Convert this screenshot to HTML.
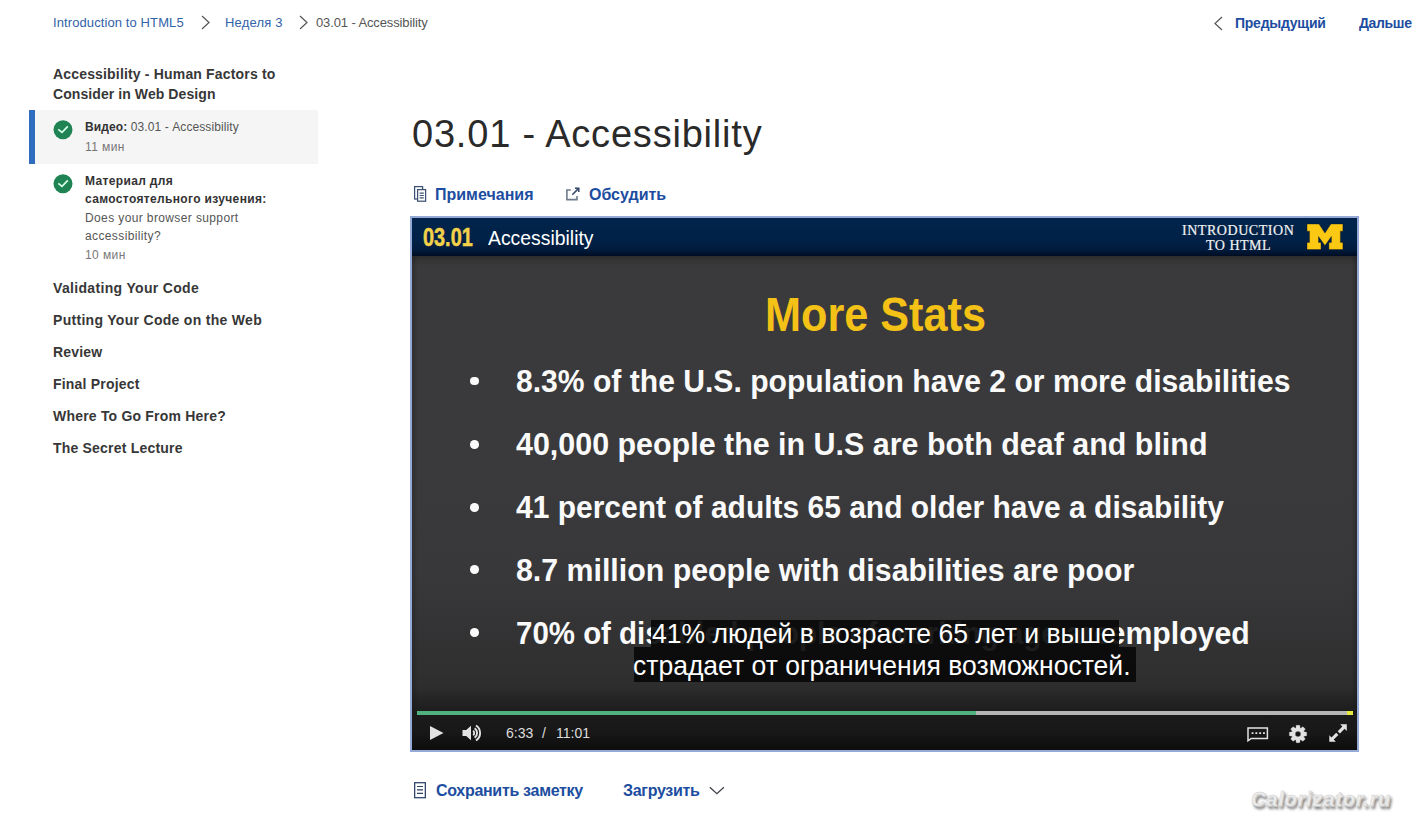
<!DOCTYPE html>
<html><head><meta charset="utf-8">
<style>
*{margin:0;padding:0;box-sizing:border-box}
html,body{width:1415px;height:821px;overflow:hidden;background:#fff}
body{font-family:"Liberation Sans",sans-serif;color:#333;position:relative}
.a{position:absolute;white-space:nowrap;line-height:1}
.lnk{color:#3262a8}
.blnk{color:#1c4da0;font-weight:bold}
.side-h{font-weight:bold;font-size:14px;color:#373737;letter-spacing:0.2px}
svg{position:absolute;overflow:visible}
#video{position:absolute;left:410px;top:216px;width:949px;height:536px;border:2px solid #94a9d6;background:#3a3a3a;overflow:hidden}
#vhead{position:absolute;left:0;top:0;width:945px;height:38px;background:linear-gradient(#02214d 0%,#01244a 15%,#012147 60%,#011a3b 85%,#000d22 100%)}
#vbody{position:absolute;left:0;top:38px;width:945px;height:494px;background:linear-gradient(#2c2c2d 0px,#343435 4px,#3a3a3c 10px,#3a3a3c 40%,#38383a 65%,#2f2f30 85%,#222223 100%)}
#vctrl{position:absolute;left:0;top:470px;width:945px;height:62px;background:linear-gradient(rgba(22,22,22,0) 0px,rgba(24,24,24,.6) 20px,#1b1b1b 28px,#181818 44px,#121212 53px,#0d0d0d 62px)}
.st{font-weight:bold;color:#fafafa;font-size:31px}
.sub{font-size:28px;color:#fff}
</style></head><body>

<!-- breadcrumb -->
<div class="a lnk" id="bc1" style="left:53px;top:16px;font-size:13px;letter-spacing:0.1px">Introduction to HTML5</div>
<svg style="left:201.3px;top:14.5px" width="9" height="15" viewBox="0 0 9 15"><path d="M1 1 L8 7.5 L1 14" fill="none" stroke="#555" stroke-width="1.2"/></svg>
<div class="a lnk" id="bc2" style="left:225px;top:16px;font-size:13px;letter-spacing:0.2px">Неделя 3</div>
<svg style="left:298.7px;top:14.5px" width="9" height="15" viewBox="0 0 9 15"><path d="M1 1 L8 7.5 L1 14" fill="none" stroke="#555" stroke-width="1.2"/></svg>
<div class="a" id="bc3" style="left:316px;top:16px;font-size:13px;color:#555;letter-spacing:-0.12px">03.01 - Accessibility</div>

<!-- top right -->
<svg style="left:1214px;top:16px" width="9" height="15" viewBox="0 0 9 15"><path d="M8 1 L1 7.5 L8 14" fill="none" stroke="#555" stroke-width="1.2"/></svg>
<div class="a blnk" id="prev" style="left:1235px;top:16px;font-size:14px;letter-spacing:-0.25px">Предыдущий</div>
<div class="a blnk" id="next" style="left:1359px;top:16px;font-size:14px;letter-spacing:-0.35px">Дальше</div>

<!-- sidebar -->
<div class="a side-h" id="sh1" style="left:53px;top:67px;letter-spacing:0.17px">Accessibility - Human Factors to</div>
<div class="a side-h" id="sh2" style="left:53px;top:87px;letter-spacing:0.08px">Consider in Web Design</div>

<div class="a" style="left:29px;top:110px;width:289px;height:54px;background:#f5f5f5"></div>
<div class="a" style="left:29px;top:110px;width:6px;height:54px;background:#2f6cbf"></div>

<svg style="left:53px;top:120px" width="20" height="20" viewBox="0 0 20 20"><circle cx="10" cy="9.7" r="9.5" fill="#1f8354"/><path d="M5.3 9.4 L9 12.4 L14.8 6.4" fill="none" stroke="#d8ffe9" stroke-width="1.7"/></svg>
<div class="a" id="v1" style="left:85px;top:121px;letter-spacing:0.1px;font-size:12px;color:#555"><b style="color:#333">Видео:</b> 03.01 - Accessibility</div>
<div class="a" style="left:85px;top:141px;font-size:12px;color:#777;letter-spacing:0.4px">11 мин</div>

<svg style="left:53px;top:174.4px" width="20" height="20" viewBox="0 0 20 20"><circle cx="10" cy="9.7" r="9.5" fill="#1f8354"/><path d="M5.3 9.4 L9 12.4 L14.8 6.4" fill="none" stroke="#d8ffe9" stroke-width="1.7"/></svg>
<div class="a" id="m1" style="left:85px;top:175px;letter-spacing:0.35px;font-size:12px;color:#333;font-weight:bold">Материал для</div>
<div class="a" id="m2" style="left:85px;top:193px;letter-spacing:0.35px;font-size:12px;color:#333;font-weight:bold">самостоятельного изучения:</div>
<div class="a" id="m3" style="left:85px;top:211.5px;letter-spacing:0.38px;font-size:12px;color:#555">Does your browser support</div>
<div class="a" id="m4" style="left:85px;top:229.5px;letter-spacing:0.38px;font-size:12px;color:#555">accessibility?</div>
<div class="a" style="left:85px;top:248.5px;font-size:12px;color:#777;letter-spacing:0.4px">10 мин</div>

<div class="a side-h" id="s1" style="left:53px;top:281px;letter-spacing:0.33px">Validating Your Code</div>
<div class="a side-h" id="s2" style="left:53px;top:313px;letter-spacing:0.3px">Putting Your Code on the Web</div>
<div class="a side-h" id="s3" style="left:53px;top:345px">Review</div>
<div class="a side-h" id="s4" style="left:53px;top:377px">Final Project</div>
<div class="a side-h" id="s5" style="left:53px;top:409px">Where To Go From Here?</div>
<div class="a side-h" id="s6" style="left:53px;top:441px">The Secret Lecture</div>

<!-- title -->
<div class="a" id="title" style="left:412px;top:115px;font-size:38px;color:#2a2a2a;letter-spacing:0.8px">03.01 - Accessibility</div>

<!-- links -->
<svg style="left:412px;top:184px" width="16" height="19" viewBox="0 0 16 19"><rect x="2.6" y="2.6" width="8" height="12.4" fill="none" stroke="#3d5172" stroke-width="1.25"/><rect x="5.6" y="5.6" width="8" height="11.6" fill="#fff" stroke="#3d5172" stroke-width="1.25"/><path d="M7.6 9.1h4.2M7.6 11.5h4.2M7.6 13.9h4.2" stroke="#3d5172" stroke-width="1.1"/></svg>
<div class="a blnk" id="notes" style="left:435px;top:187px;font-size:16px">Примечания</div>
<svg style="left:565px;top:186px" width="16" height="16" viewBox="0 0 16 16"><path d="M5.8 4H1.9V13.6H12V10" fill="none" stroke="#6f7a8a" stroke-width="1.6"/><path d="M7.3 8.7L13.6 2.4M9.9 2.2H13.8V6.1" fill="none" stroke="#34496a" stroke-width="1.5"/></svg>
<div class="a blnk" id="disc" style="left:589px;top:187px;font-size:16px">Обсудить</div>

<!-- video -->
<div id="video">
  <div id="vbody"></div>
  <div class="a" style="left:0;top:38px;width:945px;height:460px;background:linear-gradient(90deg,rgba(0,0,0,.18) 0px,rgba(0,0,0,0) 6px,rgba(0,0,0,0) 939px,rgba(0,0,0,.22) 945px)"></div>
  <div id="vhead"></div>
  <div class="a" id="vnum" style="left:11px;top:7px;font-size:25px;-webkit-text-stroke:0.5px #f3d24a;transform:scaleX(0.795);transform-origin:0 0;font-weight:bold;color:#f3d24a">03.01</div>
  <div class="a" id="vtit" style="left:76px;top:9px;font-size:21px;transform:scaleX(0.923);transform-origin:0 0;color:#fff">Accessibility</div>
  <div class="a" id="intro1" style="left:770px;top:6px;font-family:'Liberation Serif',serif;font-size:14px;letter-spacing:0.55px;color:#f2f2f2;-webkit-text-stroke:0.2px #f2f2f2">INTRODUCTION</div>
  <div class="a" id="intro2" style="left:794px;top:21px;font-family:'Liberation Serif',serif;font-size:14px;letter-spacing:0.5px;color:#f2f2f2;-webkit-text-stroke:0.2px #f2f2f2">TO HTML</div>
  <svg style="left:894.5px;top:6.25px" width="36" height="26" viewBox="0 0 36 26"><path d="M0 0H12L17.95 9L23.9 0H35.9V7.2H33.4V18.4H35.9V25.6H21.9V18.4H24.4V12.5L17.95 21.5L11.5 12.5V18.4H14V25.6H0V18.4H2.5V7.2H0Z" fill="#fbc814" stroke="#0a0f10" stroke-width="0.6" stroke-opacity="0.6"/></svg>

  <div class="a" id="more" style="left:352.8px;top:73px;transform:scaleX(0.91);transform-origin:0 0;font-size:47.5px;font-weight:bold;color:#f4c116">More Stats</div>

  <div class="a" style="left:58px;top:158.5px;width:8.7px;height:8.7px;border-radius:50%;background:#fafafa"></div>
  <div class="a" style="left:58px;top:222px;width:8.7px;height:8.7px;border-radius:50%;background:#fafafa"></div>
  <div class="a" style="left:58px;top:285px;width:8.7px;height:8.7px;border-radius:50%;background:#fafafa"></div>
  <div class="a" style="left:58px;top:347px;width:8.7px;height:8.7px;border-radius:50%;background:#fafafa"></div>
  <div class="a" style="left:58px;top:410px;width:8.7px;height:8.7px;border-radius:50%;background:#fafafa"></div>

  <div class="a st" id="b1" style="left:104px;top:148px;transform:scaleX(0.971);transform-origin:0 0">8.3% of the U.S. population have 2 or more disabilities</div>
  <div class="a st" id="b2" style="left:104px;top:211px;transform:scaleX(0.9815);transform-origin:0 0">40,000 people the in U.S are both deaf and blind</div>
  <div class="a st" id="b3" style="left:104px;top:274px;transform:scaleX(0.967);transform-origin:0 0">41 percent of adults 65 and older have a disability</div>
  <div class="a st" id="b4" style="left:104px;top:337px;transform:scaleX(0.978);transform-origin:0 0">8.7 million people with disabilities are poor</div>
  <div class="a" style="left:104px;top:395px;width:600px;height:45px;overflow:hidden"><div class="a st" id="b5" style="left:0;top:5px;transform:scaleX(0.95);transform-origin:0 0">70% of disabled people of working age are un</div></div>
  <div class="a st" id="b5b" style="right:107px;top:400px;transform:scaleX(0.975);transform-origin:100% 0">employed</div>

  <div id="vctrl"></div>
  <div class="a" style="left:238.7px;top:402.3px;width:468.6px;height:26.5px;background:rgba(9,9,9,.92)"></div>
  <div class="a" style="left:222.2px;top:428.8px;width:501.6px;height:35px;background:rgba(9,9,9,.92)"></div>
  <div class="a sub" id="sub1" style="left:240.1px;top:401.9px;transform:scaleX(0.948);transform-origin:0 0">41% людей в возрасте 65 лет и выше</div>
  <div class="a sub" id="sub2" style="left:221.4px;top:433.6px;transform:scaleX(0.947);transform-origin:0 0">страдает от ограничения возможностей.</div>

  <!-- progress -->
  <div class="a" style="left:5px;top:493px;width:936px;height:4px;background:#b6b6b6"></div>
  <div class="a" style="left:5px;top:493px;width:559px;height:4px;background:#4fb27f"></div>
  <div class="a" style="left:935px;top:493px;width:6px;height:4px;background:#e6ea3c"></div>

  <!-- controls -->
  <svg style="left:18px;top:508px" width="14" height="14" viewBox="0 0 14 14"><path d="M0 0L13.5 7L0 14Z" fill="#e2e2e2"/></svg>
  <svg style="left:49.5px;top:507px" width="22" height="17" viewBox="0 0 22 17"><path d="M0.5 5H4.2L9 0.8V15.2L4.2 11H0.5Z" fill="#e2e2e2"/><path d="M11.16 5.78A2.9 2.9 0 0 1 11.16 10.22M12.63 3.25A5.8 5.8 0 0 1 12.63 12.75M13.96 0.54A8.8 8.8 0 0 1 13.96 15.46" fill="none" stroke="#e2e2e2" stroke-width="1.9"/></svg>
  <div class="a" id="tcur" style="left:94px;top:508px;font-size:14px;color:#ddd">6:33</div>
  <div class="a" style="left:130px;top:508px;font-size:14px;color:#ddd">/</div>
  <div class="a" id="ttot" style="left:144px;top:508px;font-size:14px;color:#ddd">11:01</div>

  <svg style="left:835px;top:509px" width="22" height="15" viewBox="0 0 22 15"><path d="M1 1H20.4V11.5H4.2L1 13.8Z" fill="none" stroke="#e2e2e2" stroke-width="1.5" stroke-linejoin="miter"/><path d="M4.6 5.2h1.9v1.9h-1.9zM8.4 5.2h1.9v1.9h-1.9zM12.2 5.2h1.9v1.9h-1.9zM16 5.2h1.9v1.9h-1.9z" fill="#e2e2e2"/></svg>
  <svg style="left:876.5px;top:506.5px" width="18" height="18" viewBox="0 0 18 18"><path fill="#e2e2e2" fill-rule="evenodd" stroke="#e2e2e2" stroke-width="0.3" stroke-linejoin="round" d="M14.92 6.85 L17.64 7.32 L17.64 10.68 L14.92 11.15 L14.71 11.66 L16.30 13.92 L13.92 16.30 L11.66 14.71 L11.15 14.92 L10.68 17.64 L7.32 17.64 L6.85 14.92 L6.34 14.71 L4.08 16.30 L1.70 13.92 L3.29 11.66 L3.08 11.15 L0.36 10.68 L0.36 7.32 L3.08 6.85 L3.29 6.34 L1.70 4.08 L4.08 1.70 L6.34 3.29 L6.85 3.08 L7.32 0.36 L10.68 0.36 L11.15 3.08 L11.66 3.29 L13.92 1.70 L16.30 4.08 L14.71 6.34Z M9 6.2a2.8 2.8 0 1 0 0 5.6a2.8 2.8 0 1 0 0-5.6Z"/></svg>
  <svg style="left:916.5px;top:506px" width="19" height="19" viewBox="0 0 19 19"><path d="M11.2 0.3H17.8V6.9L15.6 4.7L10.9 9.4L8.7 7.2L13.4 2.5Z" fill="#e2e2e2"/><path d="M0.3 11.2V17.8H6.9L4.7 15.6L9.4 10.9L7.2 8.7L2.5 13.4Z" fill="#e2e2e2"/></svg>
</div>

<!-- bottom links -->
<svg style="left:413px;top:781px" width="14" height="18" viewBox="0 0 14 18"><rect x="1.65" y="1.7" width="10.7" height="15" fill="none" stroke="#34496a" stroke-width="1.3"/><path d="M4 5.5h6M4 8.9h6M4 12.4h6" stroke="#2e3f58" stroke-width="1.1"/></svg>
<div class="a blnk" id="save" style="left:436px;top:783px;font-size:16px;letter-spacing:-0.3px">Сохранить заметку</div>
<div class="a blnk" id="load" style="left:623px;top:783px;font-size:16px;letter-spacing:-0.3px">Загрузить</div>
<svg style="left:708px;top:786px" width="17" height="9" viewBox="0 0 17 9"><path d="M1.8 1.3L8.9 7.6L15.9 1.3" fill="none" stroke="#3a3d44" stroke-width="1.25"/></svg>

<!-- watermark -->
<div class="a" id="wm" style="left:1251px;top:789px;font-size:20px;letter-spacing:0.8px;font-weight:bold;font-style:italic;color:#ececec;-webkit-text-stroke:0.4px #d0d0d0;text-shadow:1px 1px 0 #c8c8c8,2px 3px 3px rgba(0,0,0,.6)">Calorizator.ru</div>

</body></html>
